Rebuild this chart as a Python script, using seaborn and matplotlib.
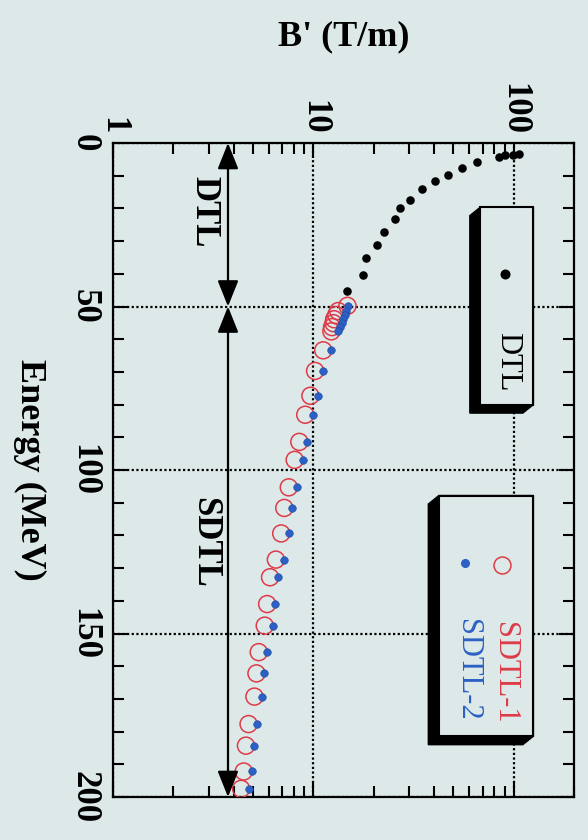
import numpy as np
import matplotlib
matplotlib.use("Agg")
import matplotlib.pyplot as plt
import matplotlib.ticker as mticker
from matplotlib.patches import Polygon, Rectangle
from matplotlib.lines import Line2D
import seaborn as sns

# ---- data -------------------------------------------------------------
# DTL quadrupole field gradient vs. beam energy
dtl_energy = [3.3, 3.55, 3.8, 4.4, 5.9, 7.7, 9.8, 11.5, 14.0, 17.3, 20.0,
              23.1, 27.3, 31.3, 35.2, 40.4, 45.2]
dtl_gradient = [106, 99, 91, 84, 65.3, 55.0, 46.8, 40.3, 34.7, 30.5, 27.2,
                25.6, 22.5, 20.8, 18.3, 17.6, 14.8]

# SDTL quadrupole field gradient, two lattice options
sdtl_energy = [49.8, 51.4, 52.6, 53.9, 55.1, 56.3, 57.6, 63.4, 69.7, 77.3,
               83.1, 91.4, 96.9, 105.3, 111.6, 119.4, 127.4, 132.8, 141.0,
               147.6, 155.7, 162.2, 169.3, 177.7, 184.3, 192.2, 197.5]
sdtl1_gradient = [14.8, 13.3, 13.0, 12.7, 12.6, 12.4, 12.3, 11.2, 10.2, 9.67,
                  9.11, 8.51, 8.07, 7.54, 7.16, 6.91, 6.50, 6.08, 5.88, 5.72,
                  5.34, 5.20, 5.08, 4.75, 4.61, 4.49, 4.36]
sdtl2_gradient = [14.85, 14.56, 14.33, 14.06, 13.83, 13.56, 13.30, 12.29,
                  11.17, 10.6, 9.99, 9.33, 8.85, 8.27, 7.85, 7.58, 7.13, 6.67,
                  6.45, 6.27, 5.85, 5.70, 5.57, 5.21, 5.05, 4.92, 4.78]

# section boundaries (MeV) and their names
section_bounds = [0, 50, 200]
section_names = ["DTL", "SDTL"]

gradient_ticks = [1, 10, 100]
gradient_tick_labels = ["1", "10", "100"]
energy_ticks = [0, 50, 100, 150, 200]
energy_tick_labels = ["0", "50", "100", "150", "200"]

# ---- style ------------------------------------------------------------
BG = "#dde9e9"
RED = "#dd3b48"
BLUE = "#2c60c4"

sns.set_theme(style="ticks")
plt.rcParams["font.family"] = ["Liberation Serif", "DejaVu Serif"]
plt.rcParams["axes.linewidth"] = 1.6

fig = plt.figure(figsize=(5.88, 8.4), dpi=100, facecolor=BG)
ax = fig.add_axes([113 / 588, 1 - 797 / 840, 461 / 588, 654 / 840])
ax.set_facecolor(BG)
for sp in ax.spines.values():
    sp.set_color("black")
    sp.set_linewidth(1.6)

ax.set_xscale("log")
ax.set_xlim(1, 200)
ax.set_ylim(200, 0)

# ---- data marks ---------------------------------------------------------
sns.scatterplot(x=dtl_gradient, y=dtl_energy, ax=ax, color="black", s=38,
                linewidth=0, zorder=4)
sns.scatterplot(x=sdtl1_gradient, y=sdtl_energy, ax=ax, color=RED, s=150,
                linewidth=1.1, zorder=4)
rings = ax.collections[-1]
rings.set_facecolor("none")
rings.set_edgecolor(RED)
sns.scatterplot(x=sdtl2_gradient, y=sdtl_energy, ax=ax, color=BLUE, s=30,
                linewidth=0.4, edgecolor="#1d4aa0", zorder=5)

# ---- grid and ticks -----------------------------------------------------
ax.set_axisbelow(True)
ax.grid(True, which="major", color="black", linestyle=(0, (1, 1.1)),
        linewidth=1.6)
ax.grid(False, which="minor")

ax.set_xticks(gradient_ticks)
ax.set_xticklabels(gradient_tick_labels, fontweight="bold")
ax.xaxis.set_minor_locator(mticker.LogLocator(base=10, subs=np.arange(2, 10)))
ax.xaxis.set_minor_formatter(mticker.NullFormatter())
ax.set_yticks(energy_ticks)
ax.set_yticklabels(energy_tick_labels, fontweight="bold")
ax.yaxis.set_minor_locator(mticker.MultipleLocator(10))

ax.tick_params(which="both", direction="in", top=True, bottom=True,
               left=True, right=True, width=1.5, color="black")
ax.tick_params(which="major", length=11)
ax.tick_params(which="minor", length=8)
ax.tick_params(axis="x", labeltop=True, labelbottom=False, labelrotation=270,
               labelsize=25, pad=6, labelcolor="black")
ax.tick_params(axis="y", labelleft=True, labelrotation=270, labelsize=25,
               pad=9, labelcolor="black")
for lbl in ax.get_yticklabels():
    lbl.set_va("center")

ax.xaxis.set_label_position("top")
ax.set_xlabel("B' (T/m)", fontsize=26, fontweight="bold", color="black")
ax.xaxis.label.set_va("center")
ax.xaxis.set_label_coords(0.5, 1 + (143 - 37) / 654)
ax.set_ylabel("Energy (MeV)", fontsize=26, fontweight="bold", color="black",
              rotation=270)
ax.yaxis.label.set_va("center")
ax.yaxis.set_label_coords((30 - 113) / 461, 0.5)

# ---- section arrows -----------------------------------------------------
arrow_b = 3.75
label_b = 2.85
label_e = [21, 122]
for (e0, e1), name, le in zip(zip(section_bounds[:-1], section_bounds[1:]),
                              section_names, label_e):
    ax.annotate("", xy=(arrow_b, e0), xytext=(arrow_b, e1),
                arrowprops=dict(arrowstyle="<|-|>,head_length=0.8,head_width=0.32",
                                mutation_scale=20, lw=1.6, color="black",
                                shrinkA=0, shrinkB=0), zorder=6)
    ax.text(label_b, le, name, rotation=270, ha="center", va="center",
            fontsize=25, fontweight="bold", color="black", zorder=6)


# ---- legend boxes (3-D frames) -----------------------------------------
def framed_box(x0, y0, x1, y1, dx=0.023, dy=0.013):
    hull = [(x0, y1), (x1, y1), (x1, y0), (x1 - dx, y0 - dy),
            (x0 - dx, y0 - dy), (x0 - dx, y1 - dy)]
    ax.add_patch(Polygon(hull, closed=True, transform=ax.transAxes,
                         facecolor="black", edgecolor="black", zorder=7))
    ax.add_patch(Rectangle((x0, y0), x1 - x0, y1 - y0, transform=ax.transAxes,
                           facecolor=BG, edgecolor="black", lw=1.5, zorder=8))


framed_box(0.797, 0.600, 0.912, 0.902)
ax.add_line(Line2D([0.851], [0.799], transform=ax.transAxes, marker="o",
                   markersize=6.2, color="black", linestyle="none", zorder=9))
ax.text(0.856, 0.666, "DTL", transform=ax.transAxes, rotation=270,
        ha="center", va="center", fontsize=22, color="black", zorder=9)

framed_box(0.707, 0.093, 0.912, 0.461)
ax.add_line(Line2D([0.844], [0.3555], transform=ax.transAxes, marker="o",
                   markersize=12.2, markerfacecolor="none",
                   markeredgecolor=RED, markeredgewidth=1.1,
                   linestyle="none", zorder=9))
ax.add_line(Line2D([0.764], [0.3577], transform=ax.transAxes, marker="o",
                   markersize=5.5, color=BLUE, linestyle="none", zorder=9))
ax.text(0.850, 0.190, "SDTL-1", transform=ax.transAxes, rotation=270,
        ha="center", va="center", fontsize=22, color=RED, zorder=9)
ax.text(0.768, 0.194, "SDTL-2", transform=ax.transAxes, rotation=270,
        ha="center", va="center", fontsize=22, color=BLUE, zorder=9)

fig.savefig("out.png", dpi=100, facecolor=BG)
